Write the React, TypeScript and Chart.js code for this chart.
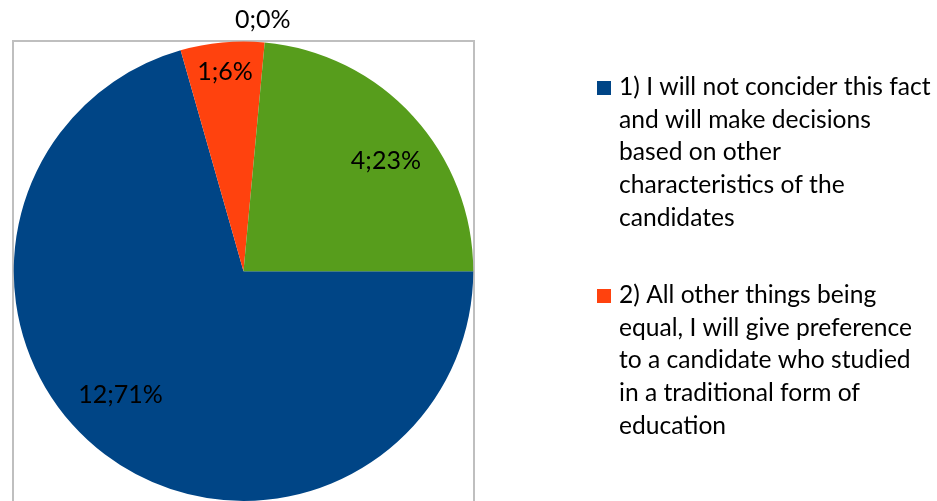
import React, { useEffect, useRef } from "react";
import { Chart, registerables } from "chart.js";

Chart.register(...registerables);

const CATEGORIES = ["1)", "2)", "3)", "4)"];
const VALUES = [12, 1, 0, 4];
const COLORS = ["#004586", "#ff420e", "#ffd320", "#579d1c"];
const LEGEND_LINES = [
  [
    "1) I will not concider this fact",
    "and will make decisions",
    "based on other",
    "characteristics of the",
    "candidates",
  ],
  [
    "2) All other things being",
    "equal, I will give preference",
    "to a candidate who studied",
    "in a traditional form of",
    "education",
  ],
];
const LABEL_RADIUS = [0.76, 0.87, 1.095, 0.785];
const LABEL_ANGLE_SHIFT = [7.7, 0, -0.9, 4.5];

const FONT = "Lato, 'Noto Sans', sans-serif";

function percents(values: number[]): number[] {
  const total = values.reduce((a, b) => a + b, 0);
  const raw = values.map((v) => (v / total) * 100);
  const fl = raw.map((r) => Math.floor(r));
  let rest = 100 - fl.reduce((a, b) => a + b, 0);
  const order = raw
    .map((r, i) => ({ i, f: r - Math.floor(r) }))
    .sort((a, b) => b.f - a.f);
  for (const o of order) {
    if (rest <= 0) break;
    fl[o.i] += 1;
    rest -= 1;
  }
  return fl;
}

const framePlugin = {
  id: "frame",
  beforeDatasetsDraw(chart: any) {
    const ctx = chart.ctx;
    ctx.save();
    ctx.strokeStyle = "#bfbfbf";
    ctx.lineWidth = 2;
    ctx.strokeRect(13, 41, 461, 500);
    ctx.restore();
  },
  afterDraw(chart: any) {
    const ctx = chart.ctx;
    const meta = chart.getDatasetMeta(0);
    const pct = percents(VALUES);
    ctx.save();
    ctx.fillStyle = "#000";
    ctx.font = `25px ${FONT}`;
    ctx.textAlign = "center";
    ctx.textBaseline = "middle";
    meta.data.forEach((arc: any, i: number) => {
      const p = arc.getProps(["x", "y", "startAngle", "endAngle", "outerRadius"], true);
      const mid = (p.startAngle + p.endAngle) / 2 + (LABEL_ANGLE_SHIFT[i] * Math.PI) / 180;
      const r = p.outerRadius * LABEL_RADIUS[i];
      ctx.fillText(`${VALUES[i]};${pct[i]}%`, p.x + Math.cos(mid) * r, p.y + Math.sin(mid) * r);
    });

    // legend
    ctx.font = `24.6px ${FONT}`;
    ctx.textAlign = "left";
    ctx.textBaseline = "alphabetic";
    LEGEND_LINES.forEach((lines, i) => {
      const base = 95 + i * 208;
      ctx.fillStyle = COLORS[i];
      ctx.fillRect(597, base - 14, 14, 14);
      ctx.fillStyle = "#000";
      lines.forEach((ln, j) => {
        ctx.fillText(ln, 619, base + j * 32.7);
      });
    });
    ctx.restore();
  },
};

export default function App() {
  const ref = useRef<HTMLCanvasElement>(null);
  useEffect(() => {
    if (!ref.current) return;
    const chart = new Chart(ref.current, {
      type: "pie",
      data: {
        labels: CATEGORIES,
        datasets: [
          {
            data: VALUES,
            backgroundColor: COLORS,
            borderWidth: 0,
          },
        ],
      },
      options: {
        responsive: false,
        animation: false,
        rotation: 90,
        layout: { padding: { left: 13.5, top: 41.5, right: 463.5, bottom: 0 } },
        plugins: {
          legend: { display: false },
          tooltip: { enabled: false },
        },
      },
      plugins: [framePlugin],
    });
    return () => chart.destroy();
  }, []);
  return (
    <div style={{ position: "fixed", left: 0, top: 0, width: 937, height: 501, background: "#fff" }}>
      <canvas ref={ref} width={937} height={501} style={{ display: "block" }} />
    </div>
  );
}
